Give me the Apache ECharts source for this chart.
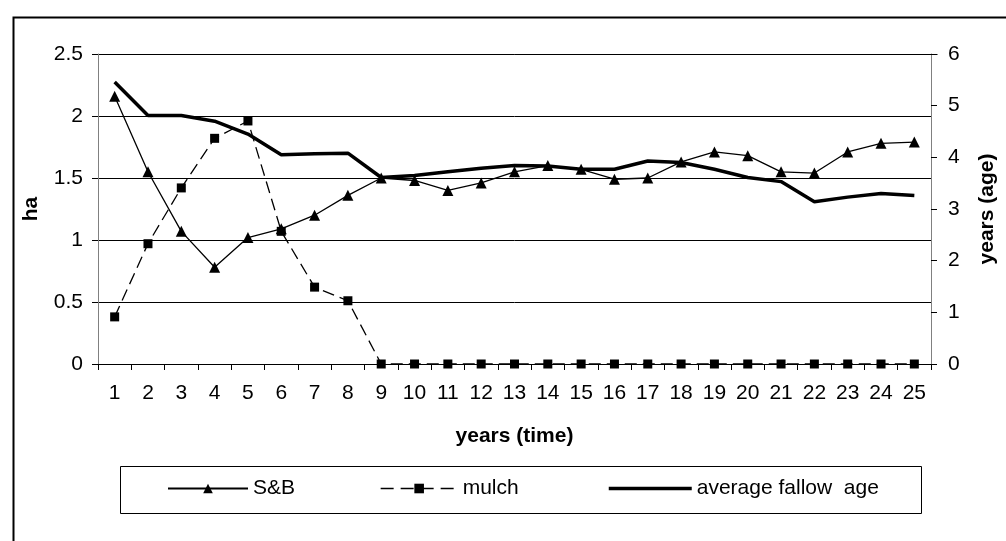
<!DOCTYPE html>
<html>
<head>
<meta charset="utf-8">
<script src="https://cdn.jsdelivr.net/npm/echarts@6/dist/echarts.min.js"></script>
<style>html,body{margin:0;padding:0;background:#fff;}#c{width:1006px;height:541px;}</style>
</head>
<body>
<div id="c"></div>
<script>
const years = ['1','2','3','4','5','6','7','8','9','10','11','12','13','14','15','16','17','18','19','20','21','22','23','24','25'];
const sbValues = [2.16,1.55,1.07,0.78,1.02,1.09,1.20,1.36,1.50,1.48,1.40,1.46,1.55,1.60,1.57,1.49,1.50,1.63,1.71,1.68,1.55,1.54,1.71,1.78,1.79];
const mulchValues = [0.38,0.97,1.42,1.82,1.96,1.07,0.62,0.51,0,0,0,0,0,0,0,0,0,0,0,0,0,0,0,0,0];
const avgAgeValues = [5.46,4.81,4.81,4.70,4.45,4.05,4.07,4.08,3.61,3.65,3.72,3.79,3.84,3.83,3.77,3.77,3.93,3.90,3.77,3.61,3.53,3.14,3.23,3.30,3.26];
const leftTicks = {min:0, max:2.5, interval:0.5};
const rightTicks = {min:0, max:6, interval:1};

const FONT = "'Liberation Sans', Arial, sans-serif";
const chart = echarts.init(document.getElementById('c'), null, {renderer:'canvas'});
const legendText = {fontFamily:FONT, fontSize:21, color:'#000'};
chart.setOption({
  animation:false,
  backgroundColor:'#fff',
  grid:{left:98, right:68, top:54, bottom:177, containLabel:false},
  xAxis:{
    type:'category', data:years, boundaryGap:true,
    name:'years (time)', nameLocation:'middle', nameGap:62,
    nameTextStyle:{fontFamily:FONT, fontSize:21, fontWeight:'bold', color:'#000'},
    axisLine:{lineStyle:{color:'#000', width:1}},
    axisTick:{show:true, inside:false, length:6, interval:0, alignWithLabel:false, lineStyle:{color:'#000'}},
    axisLabel:{interval:0, margin:19, fontFamily:FONT, fontSize:21, color:'#000'},
    splitLine:{show:false}
  },
  yAxis:[{
    type:'value', min:leftTicks.min, max:leftTicks.max, interval:leftTicks.interval, position:'left',
    name:'ha', nameLocation:'middle', nameGap:56, nameRotate:90,
    nameTextStyle:{fontFamily:FONT, fontSize:21, fontWeight:'bold', color:'#000'},
    axisLine:{show:true, lineStyle:{color:'#808080', width:1}},
    axisTick:{show:true, inside:false, length:6, lineStyle:{color:'#000'}},
    axisLabel:{margin:15, fontFamily:FONT, fontSize:21, color:'#000'},
    splitLine:{show:true, lineStyle:{color:'#000', width:1}}
  },{
    type:'value', min:rightTicks.min, max:rightTicks.max, interval:rightTicks.interval, position:'right',
    name:'years (age)', nameLocation:'middle', nameGap:46, nameRotate:90,
    nameTextStyle:{fontFamily:FONT, fontSize:21, fontWeight:'bold', color:'#000'},
    axisLine:{show:true, lineStyle:{color:'#808080', width:1}},
    axisTick:{show:true, inside:false, length:6, lineStyle:{color:'#000'}},
    axisLabel:{margin:17, fontFamily:FONT, fontSize:21, color:'#000'},
    splitLine:{show:false}
  }],
  legend:[
    {data:['S&B'], left:167, top:478, padding:0, itemWidth:80, itemHeight:12, itemGap:0, textStyle:legendText, selectedMode:false},
    {data:[{name:'mulch', lineStyle:{type:[13,7], width:1.3}}], left:380, top:478, padding:0, itemWidth:77, itemHeight:12, itemGap:0, textStyle:legendText, selectedMode:false},
    {data:[{name:'average fallow  age', itemStyle:{opacity:0}, lineStyle:{width:3.5, color:'#000'}}], left:607, top:478, padding:0, itemWidth:83, itemHeight:12, itemGap:0, textStyle:legendText, selectedMode:false}
  ],
  graphic:[
    {type:'rect', left:11, top:15, shape:{x:0, y:0, width:1100, height:600}, style:{fill:null, stroke:'#000', lineWidth:2}, silent:true, z:-1},
    {type:'rect', shape:{x:120.5, y:466.5, width:801, height:47}, style:{fill:null, stroke:'#000', lineWidth:1}, silent:true, z:-1},
    {type:'line', shape:{x1:98, y1:54.5, x2:938, y2:54.5}, style:{stroke:'#808080', lineWidth:1}, silent:true}
  ],
  series:[
    {name:'S&B', type:'line', data:sbValues, yAxisIndex:0, symbol:'triangle', symbolSize:11,
     lineStyle:{color:'#000', width:1.3}, itemStyle:{color:'#000'}, z:3},
    {name:'mulch', type:'line', data:mulchValues, yAxisIndex:0, symbol:'rect', symbolSize:9,
     lineStyle:{color:'#000', width:1.3, type:[12,6]}, itemStyle:{color:'#000'}, z:3},
    {name:'average fallow  age', type:'line', data:avgAgeValues, yAxisIndex:1, symbol:'none', showSymbol:false,
     lineStyle:{color:'#000', width:3.5}, itemStyle:{color:'#000'}, z:2}
  ]
});
</script>
</body>
</html>
